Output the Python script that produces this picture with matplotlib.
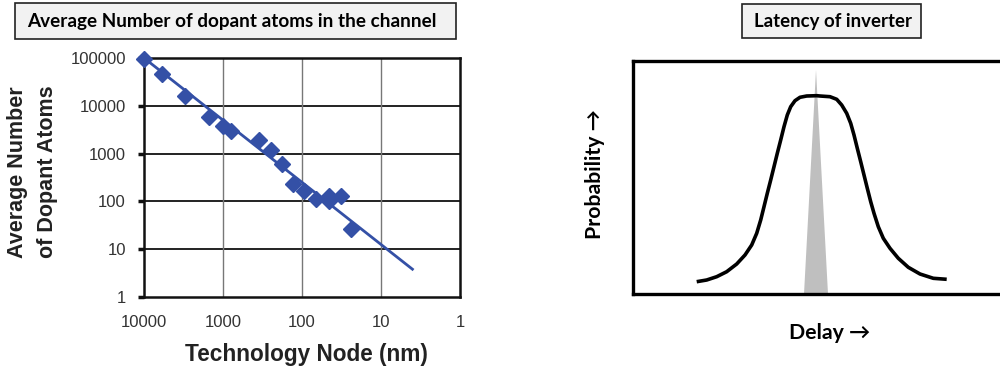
import numpy as np
import matplotlib.pyplot as plt
from matplotlib.patches import Rectangle, Polygon

# left panel data: dopant atoms vs technology node
node_nm = [10000, 6000, 3000, 1500, 1000, 800, 350, 250, 180, 130, 94, 66, 45, 45, 32, 24]
dopants = [95000, 47000, 16000, 5800, 3800, 3000, 1900, 1200, 600, 230, 165, 110, 130, 100, 130, 27]
fit_nm = [10000, 4]
fit_dopants = [100000, 3.8]

x_ticks = [10000, 1000, 100, 10, 1]
y_ticks = [1, 10, 100, 1000, 10000, 100000]

# right panel data: sketch of delay distribution (arbitrary units)
delay = [63.7, 73.7, 83.7, 93.7, 103.7, 112, 118.7, 123.7, 127.7, 131, 134.3, 137.7,
         141, 144.3, 147.7, 151, 154.3, 157.7, 162, 167, 173.7, 183.7, 187, 197,
         203.7, 208.7, 213.7, 217.7, 221, 224.3, 227.7, 231, 234.3, 237.7, 241,
         245.3, 250.3, 257, 265.3, 275.3, 287, 300.3, 313.7]
prob = [12.3, 14, 17.3, 22.3, 30, 39, 49, 60.7, 74, 87.3, 100.7, 114,
        127.3, 140.7, 154, 167.3, 179, 187.3, 193.3, 196.7, 198, 198.3, 198, 197.3,
        194.7, 189, 180.7, 170.7, 159, 145.7, 132.3, 119, 105.7, 92.3, 80.7,
        67.3, 55.7, 45.7, 35.7, 26.7, 20, 15.7, 14.7]
spike_x = [171, 183, 195]
spike_y = [0, 224, 0]

blue = '#3450a6'
title_font = ['Lato', 'DejaVu Sans']

fig = plt.figure(figsize=(10, 3.73), dpi=100)

# ---------------- left chart ----------------
ax = fig.add_axes([0.144, 0.204, 0.316, 0.6405])
ax.set_xscale('log')
ax.set_yscale('log')
ax.set_xlim(10000, 1)
ax.set_ylim(1, 100000)
ax.plot(fit_nm, fit_dopants, color=blue, lw=2, zorder=3)
ax.plot(node_nm, dopants, 'D', color=blue, ms=8, zorder=4, clip_on=False)

ax.set_xticks(x_ticks)
ax.set_xticklabels([str(v) for v in x_ticks])
ax.set_yticks(y_ticks)
ax.set_yticklabels([str(v) for v in y_ticks])
ax.minorticks_off()
for v in y_ticks[1:-1]:
    ax.axhline(v, color='#111111', lw=1.3, zorder=1)
for v in x_ticks[1:-1]:
    ax.axvline(v, color='#777777', lw=1.0, zorder=1)
for s in ax.spines.values():
    s.set_linewidth(1.8)
    s.set_color('#111111')
ax.tick_params(axis='y', length=4, width=2.5, color='#111111', pad=9,
               labelsize=12, labelcolor='#333333')
ax.tick_params(axis='x', length=0, pad=13, labelsize=12, labelcolor='#333333')
for lab in ax.get_xticklabels() + ax.get_yticklabels():
    lab.set_family('Liberation Sans')

fig.text(0.0325, 1 - 172 / 373, 'Average Number\nof Dopant Atoms', rotation=90,
         ha='center', va='center', multialignment='center', linespacing=1.5,
         fontsize=15.5, fontweight='bold', family='Liberation Sans', color='#222222')
fig.text(0.306, 1 - 355 / 373, 'Technology Node (nm)', ha='center', va='center',
         fontsize=16.3, fontweight='bold', family='Liberation Sans', color='#222222')

fig.patches.append(Rectangle((0.015, 1 - 39 / 373), 0.441, 36 / 373,
                             transform=fig.transFigure, facecolor='#f2f2f2',
                             edgecolor='#222222', lw=1.2))
fig.text(0.027, 1 - 21 / 373, 'Average Number of dopant atoms in the channel',
         ha='left', va='center', fontsize=13.6, fontweight='bold',
         family=title_font, color='black')

# ---------------- right chart ----------------
ax2 = fig.add_axes([0.633, 1 - 294 / 373, 0.372, 233 / 373])
ax2.set_xlim(0, 372)
ax2.set_ylim(0, 233)
ax2.add_patch(Polygon(np.column_stack([spike_x, spike_y]), closed=True,
                      facecolor='#bfbfbf', edgecolor='none', zorder=1))
ax2.plot(delay, prob, color='black', lw=2.6, solid_capstyle='butt',
         solid_joinstyle='round', zorder=2)
ax2.set_xticks([])
ax2.set_yticks([])
for s in ax2.spines.values():
    s.set_linewidth(2.4)
    s.set_color('black')

fig.patches.append(Rectangle((0.742, 1 - 38 / 373), 0.179, 34 / 373,
                             transform=fig.transFigure, facecolor='#f2f2f2',
                             edgecolor='#222222', lw=1.2))
fig.text(0.833, 1 - 22 / 373, 'Latency of inverter', ha='center', va='center',
         fontsize=13.4, fontweight='bold', family=title_font, color='black')
fig.text(0.595, 1 - 174 / 373, 'Probability \u2192', rotation=90, ha='center',
         va='center', fontsize=15.3, fontweight='bold', family=title_font)
fig.text(0.830, 1 - 333 / 373, 'Delay \u2192', ha='center', va='center',
         fontsize=15.3, fontweight='bold', family=title_font)

fig.savefig('out.png', dpi=100)
